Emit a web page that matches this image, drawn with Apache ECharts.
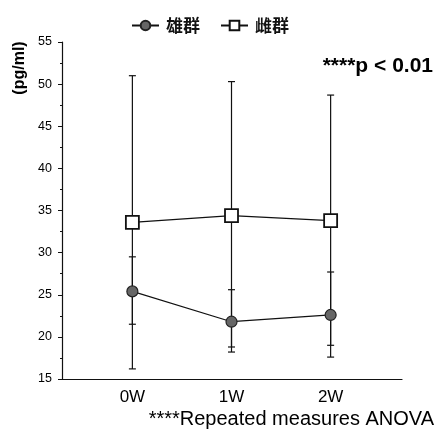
<!DOCTYPE html>
<html><head><meta charset="utf-8">
<script src="https://cdn.jsdelivr.net/npm/echarts@6/dist/echarts.min.js"></script>
<style>html,body{margin:0;padding:0;background:#fff}#c{width:435px;height:431px}</style>
</head><body><div id="c"></div>
<script>
const categories = ['0W', '1W', '2W'];
const maleMean = [25.4, 21.8, 22.6];
const maleLow = [21.5, 18.8, 19.0];
const maleHigh = [29.5, 25.6, 27.7];
const femaleMean = [33.6, 34.4, 33.8];
const femaleLow = [16.2, 18.2, 17.6];
const femaleHigh = [51.0, 50.3, 48.7];
const yTicks = [15, 20, 25, 30, 35, 40, 45, 50, 55];

const chart = echarts.init(document.getElementById('c'));
const pts = arr => arr.map((v, i) => [i, v]);
const errData = (lo, hi) => lo.map((v, i) => [i, v, hi[i]]);
function errRender(params, api) {
  const x = api.value(0);
  const p1 = api.coord([x, api.value(1)]);
  const p2 = api.coord([x, api.value(2)]);
  const w = 3.5;
  const st = { stroke: '#111', lineWidth: 1.2 };
  return { type: 'group', children: [
    { type: 'line', shape: { x1: p1[0], y1: p1[1], x2: p2[0], y2: p2[1] }, style: st },
    { type: 'line', shape: { x1: p1[0] - w, y1: p1[1], x2: p1[0] + w, y2: p1[1] }, style: st },
    { type: 'line', shape: { x1: p2[0] - w, y1: p2[1], x2: p2[0] + w, y2: p2[1] }, style: st }
  ]};
}
chart.setOption({
  animation: false,
  grid: { left: 62, right: 33, top: 42, bottom: 52 },
  legend: {
    top: 12, left: 126, itemWidth: 27, itemHeight: 12, itemGap: 20,
    textStyle: { fontSize: 17, color: '#111', fontWeight: 'bold', fontFamily: 'Noto Sans CJK SC', padding: [0, 0, 0, 2] },
    data: ['雄群', '雌群']
  },
  xAxis: {
    type: 'value', min: -0.71, max: 2.72,
    axisLine: { onZero: false, lineStyle: { color: '#111', width: 1.2 } },
    axisTick: { show: false },
    splitLine: { show: false },
    axisLabel: {
      customValues: [0, 1, 2],
      formatter: v => categories[Math.round(v)],
      fontSize: 17, color: '#000', fontFamily: 'Liberation Sans', margin: 10
    }
  },
  yAxis: {
    type: 'value', min: 15, max: 55, interval: 5,
    axisLine: { show: true, onZero: false, lineStyle: { color: '#111', width: 1.2 } },
    axisTick: { show: true, length: 4, lineStyle: { color: '#111' } },
    minorTick: { show: true, splitNumber: 2, length: 2, lineStyle: { color: '#111' } },
    splitLine: { show: false },
    axisLabel: { fontSize: 12.5, color: '#000', fontFamily: 'Liberation Sans', margin: 10,
      formatter: v => yTicks.includes(v) ? String(v) : '' }
  },
  series: [
    { type: 'custom', renderItem: errRender, data: errData(femaleLow, femaleHigh), z: 1, silent: true },
    { type: 'custom', renderItem: errRender, data: errData(maleLow, maleHigh), z: 1, silent: true },
    { name: '雄群', type: 'line', data: pts(maleMean), symbol: 'circle', symbolSize: 11, z: 3,
      lineStyle: { color: '#111', width: 1.2 },
      itemStyle: { color: '#666', borderColor: '#222', borderWidth: 1.2 } },
    { name: '雌群', type: 'line', data: pts(femaleMean), symbol: 'rect', symbolSize: 13, z: 3,
      lineStyle: { color: '#111', width: 1.2 },
      itemStyle: { color: '#fff', borderColor: '#111', borderWidth: 1.8 } }
  ],
  graphic: [
    { type: 'text', x: 20, y: 68, rotation: Math.PI / 2,
      style: { text: '(pg/ml)', fontSize: 16, fontWeight: 'bold', fill: '#000', fontFamily: 'Liberation Sans', align: 'center', verticalAlign: 'middle' } },
    { type: 'text', right: 2, top: 56, style: { text: '****p < 0.01', fontSize: 21, fontWeight: 'bold', fill: '#000', fontFamily: 'Liberation Sans' } },
    { type: 'text', right: 1, top: 409, style: { text: '****Repeated measures ANOVA', fontSize: 20, fill: '#000', fontFamily: 'Liberation Sans' } }
  ]
});
</script></body></html>
